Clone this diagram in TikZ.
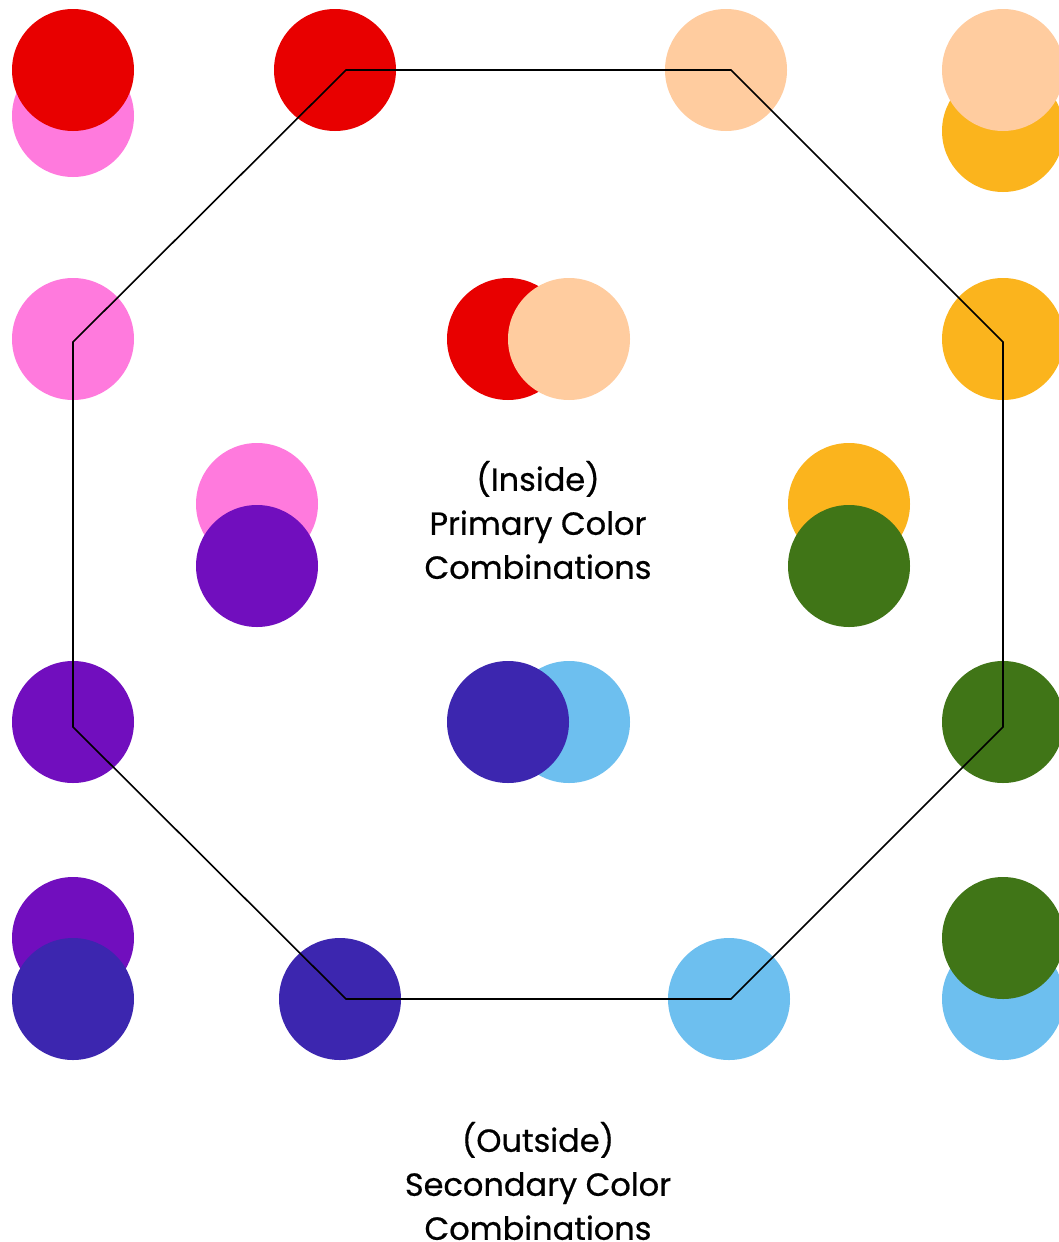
\documentclass[tikz,border=0pt]{standalone}
\usepackage{fontspec}
\setmainfont{Poppins}
\newfontfamily\lblfont{Poppins}[FakeBold=0.6]
\definecolor{cred}{HTML}{E80000}
\definecolor{cpink}{HTML}{FF7ADD}
\definecolor{cpeach}{HTML}{FFCC9F}
\definecolor{corange}{HTML}{FBB41D}
\definecolor{cpurple}{HTML}{710EBE}
\definecolor{cindigo}{HTML}{3C26AF}
\definecolor{cblue}{HTML}{6DBFEF}
\definecolor{cgreen}{HTML}{407517}
\begin{document}
\begin{tikzpicture}[x=1pt,y=-1pt,
  lbl/.style={align=center, font=\lblfont\fontsize{32}{44}\selectfont, inner sep=0pt}]
\useasboundingbox (0,0) rectangle (1059,1242);
\fill[white] (0,0) rectangle (1059,1242);
% top-left pair
\fill[cpink] (73,116) circle (61);
\fill[cred] (73,70) circle (61);
\fill[cred] (335,70) circle (61);
\fill[cpeach] (726,70) circle (61);
% top-right pair
\fill[corange] (1003,131) circle (61);
\fill[cpeach] (1003,70) circle (61);
\fill[cpink] (73,339) circle (61);
\fill[cred] (508,339) circle (61);
\fill[cpeach] (569,339) circle (61);
\fill[corange] (1003,339) circle (61);
\fill[cpink] (257,504) circle (61);
\fill[cpurple] (257,566) circle (61);
\fill[corange] (849,504) circle (61);
\fill[cgreen] (849,566) circle (61);
\fill[cpurple] (73,722) circle (61);
\fill[cblue] (569,722) circle (61);
\fill[cindigo] (508,722) circle (61);
\fill[cgreen] (1003,722) circle (61);
\fill[cpurple] (73,938) circle (61);
\fill[cindigo] (73,999) circle (61);
\fill[cindigo] (340,999) circle (61);
\fill[cblue] (729,999) circle (61);
\fill[cblue] (1003,999) circle (61);
\fill[cgreen] (1003,938) circle (61);
% octagon
\draw[line width=1.6pt, line join=miter] (346,70) -- (731,70) -- (1003,342) -- (1003,727) -- (731,999) -- (346,999) -- (73,727) -- (73,342) -- cycle;
\node[lbl] (inside) at (538,520) {(Inside)\\Primary Color\\Combinations};
\node[lbl] (outside) at (538,1181) {(Outside)\\Secondary Color\\Combinations};
\end{tikzpicture}
\end{document}
